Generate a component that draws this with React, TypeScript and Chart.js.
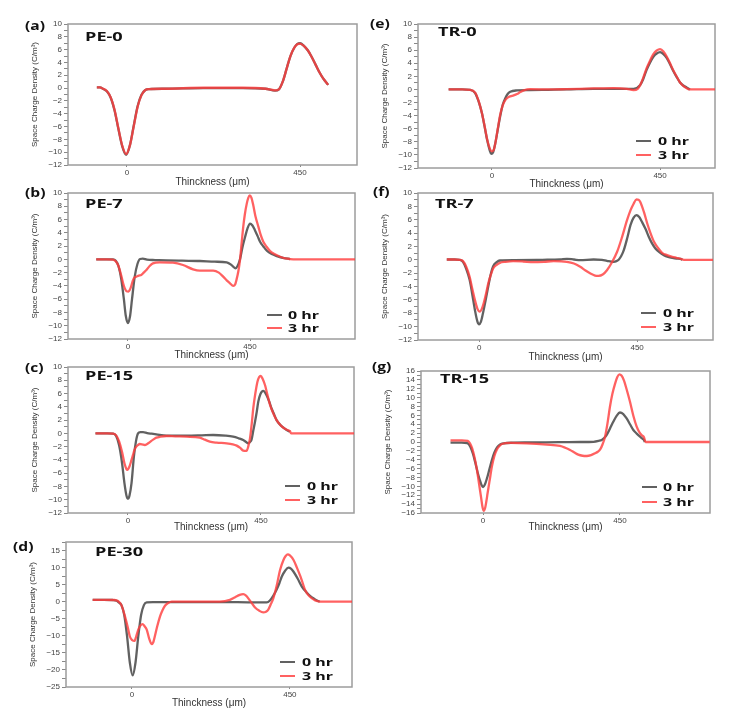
import React, { useEffect, useRef } from "react";
import { Chart, registerables } from "chart.js";
Chart.register(...registerables);

type Pt = [number, number];

// ---------- data (thickness in µm, space charge density in C/m³) ----------
const thicknessTicks = [0, 450];
const seriesLabels = ["0 hr", "3 hr"];

const pe0Hr0: Pt[] = [[-78,0.1],[-70,0.1],[-62,-0.1],[-52,-0.5],[-42,-1.5],[-32,-3.5],[-22,-6.4],[-12,-9.1],[-2,-10.4],[8,-8.9],[18,-5.8],[28,-2.8],[38,-1.05],[48,-0.3],[58,-0.15],[100,-0.1],[200,0],[300,0],[360,-0.1],[385,-0.4],[395,-0.2],[405,1.0],[415,3.0],[425,5.0],[435,6.3],[443,6.9],[450,7.0],[460,6.6],[470,5.9],[480,4.9],[490,3.7],[500,2.5],[510,1.5],[523,0.5]];
const pe0Hr3: Pt[] = [[-78,0.1],[-70,0.1],[-62,-0.1],[-52,-0.45],[-42,-1.45],[-32,-3.4],[-22,-6.3],[-12,-9.0],[-2,-10.3],[8,-8.9],[18,-5.9],[28,-2.9],[38,-1.1],[48,-0.3],[58,-0.15],[100,-0.1],[200,0.05],[300,0.05],[360,-0.1],[385,-0.35],[395,-0.2],[405,1.0],[415,3.0],[425,5.0],[435,6.3],[443,6.85],[450,6.95],[460,6.6],[470,5.9],[480,4.9],[490,3.7],[500,2.5],[510,1.5],[523,0.5]];

const pe7Hr0: Pt[] = [[-117,0],[-80,0],[-55,0],[-45,-0.2],[-35,-1.0],[-25,-2.9],[-15,-6.0],[-8,-8.5],[0,-9.6],[8,-8.5],[15,-6.0],[25,-2.6],[35,-0.7],[45,0.05],[55,0.1],[70,-0.05],[100,-0.1],[142,-0.15],[200,-0.2],[265,-0.25],[320,-0.35],[364,-0.45],[380,-0.8],[388,-1.1],[396,-1.35],[404,-1.0],[413,0],[422,1.8],[432,3.4],[441,4.7],[450,5.4],[459,5.1],[468,4.4],[478,3.5],[487,2.65],[500,1.9],[512,1.3],[530,0.8],[549,0.5],[575,0.2],[598,0.05]];
const pe7Hr3: Pt[] = [[-117,0],[-80,0],[-55,-0.05],[-45,-0.3],[-35,-1.0],[-25,-2.4],[-15,-4.0],[-5,-4.8],[2,-4.85],[10,-4.3],[18,-3.2],[25,-2.7],[31,-2.6],[40,-2.45],[49,-2.35],[58,-2.0],[68,-1.6],[80,-1.0],[92,-0.6],[117,-0.45],[166,-0.5],[203,-0.85],[240,-1.5],[265,-1.7],[314,-1.7],[335,-2.0],[351,-2.6],[365,-3.2],[376,-3.6],[388,-4.0],[395,-3.8],[400,-3.1],[407,-1.8],[413,-0.1],[419,2.4],[425,4.9],[431,6.8],[438,8.4],[444,9.3],[449,9.65],[455,9.3],[462,8.15],[470,6.5],[481,4.9],[490,3.6],[499,2.65],[511,1.9],[524,1.25],[540,0.8],[561,0.4],[580,0.15],[598,0.05],[620,0],[837,0]];

const pe15Hr0: Pt[] = [[-110,0],[-70,0],[-50,-0.05],[-40,-0.4],[-30,-1.8],[-20,-4.5],[-12,-7.5],[-5,-9.4],[0,-9.85],[5,-9.4],[12,-7.5],[20,-3.5],[27,-1.2],[34,0],[42,0.2],[51,0.2],[65,0.05],[80,-0.05],[96,-0.15],[130,-0.35],[198,-0.35],[250,-0.3],[288,-0.25],[330,-0.35],[356,-0.5],[375,-0.75],[390,-1.0],[400,-1.3],[407,-1.5],[413,-1.3],[418,-1.0],[424,0.4],[430,1.75],[436,3.3],[441,4.75],[448,5.9],[458,6.4],[469,5.75],[478,4.8],[486,3.75],[495,2.8],[503,2.0],[515,1.3],[526,0.85],[537,0.5],[548,0.25]];
const pe15Hr3: Pt[] = [[-110,0],[-70,0],[-50,-0.05],[-40,-0.3],[-30,-1.2],[-20,-2.8],[-12,-4.5],[-5,-5.4],[-2,-5.5],[5,-5.0],[12,-4.0],[17,-3.25],[22,-2.5],[28,-2.0],[34,-1.75],[40,-1.6],[48,-1.65],[57,-1.75],[65,-1.6],[73,-1.35],[85,-0.95],[96,-0.65],[110,-0.5],[130,-0.4],[160,-0.45],[198,-0.5],[243,-0.65],[260,-0.95],[277,-1.25],[300,-1.4],[334,-1.5],[355,-1.65],[368,-1.85],[380,-2.2],[390,-2.6],[401,-2.65],[407,-2.0],[413,-0.75],[419,1.5],[424,3.75],[431,6.0],[438,7.75],[444,8.5],[449,8.65],[456,8.2],[464,7.25],[472,5.8],[481,4.25],[492,3.0],[503,2.0],[515,1.3],[526,0.85],[540,0.5],[548,0.35],[552,0],[765,0]];

const pe30Hr0: Pt[] = [[-112,0.55],[-80,0.55],[-55,0.5],[-44,0.3],[-38,-0.2],[-30,-1.0],[-22,-3.9],[-14,-10.1],[-6,-17.9],[2,-21.6],[10,-17.9],[18,-10.1],[26,-3.9],[34,-1.0],[42,-0.2],[60,-0.1],[200,-0.1],[300,-0.15],[384,-0.2],[393,0.35],[403,1.8],[412,3.5],[420,5.4],[427,7.4],[436,9.0],[446,10.0],[453,9.7],[460,8.85],[472,6.8],[484,4.45],[497,2.8],[510,1.5],[520,0.8],[526,0.4],[535,0]];
const pe30Hr3: Pt[] = [[-112,0.55],[-80,0.55],[-50,0.5],[-40,0.2],[-30,-1.0],[-20,-4.3],[-12,-7.5],[-6,-10.2],[1,-11.3],[7,-11.5],[12,-10.2],[18,-8.2],[24,-7.0],[30,-6.6],[36,-7.2],[42,-8.2],[49,-10.8],[56,-12.4],[61,-11.8],[65,-10.2],[72,-7.2],[80,-4.3],[87,-2.5],[94,-1.2],[103,-0.4],[113,0],[150,0],[200,0],[250,0.05],[279,0.55],[294,1.3],[307,2.0],[317,2.2],[325,1.8],[331,1.05],[340,-0.2],[350,-1.6],[362,-2.6],[374,-3.15],[382,-2.95],[388,-2.4],[395,-0.9],[403,1.05],[412,4.5],[422,9.3],[432,12.3],[438,13.4],[444,13.9],[450,13.6],[460,12.3],[470,10.0],[480,7.4],[487,5.3],[493,3.5],[502,2.0],[512,1.05],[522,0.4],[531,0.1],[540,0],[627,0]];

const tr0Hr0: Pt[] = [[-116,0],[-80,0],[-58,-0.05],[-45,-0.55],[-36,-1.8],[-27,-3.6],[-20,-5.6],[-13,-7.7],[-6,-9.3],[-2,-9.85],[3,-9.6],[9,-8.2],[15,-6.3],[22,-4.1],[29,-2.3],[36,-1.3],[42,-0.7],[49,-0.35],[67,-0.15],[100,-0.1],[150,-0.05],[200,0],[272,0.1],[352,0.1],[379,0.1],[397,0.7],[405,1.6],[414,3.0],[423,4.1],[432,5.0],[441,5.5],[450,5.7],[459,5.4],[468,4.8],[477,3.8],[486,2.75],[495,1.85],[503,1.1],[512,0.6],[521,0.3],[530,0]];
const tr0Hr3: Pt[] = [[-116,0],[-80,0],[-58,-0.05],[-45,-0.5],[-36,-1.7],[-27,-3.6],[-20,-5.5],[-13,-7.6],[-6,-9.0],[0,-9.45],[5,-9.2],[9,-8.2],[15,-6.2],[22,-3.85],[29,-2.4],[36,-1.6],[42,-1.25],[49,-1.05],[58,-0.9],[67,-0.7],[76,-0.4],[85,-0.15],[102,0.05],[150,0],[200,0.05],[272,0.15],[325,0.2],[361,0.1],[379,-0.1],[390,0.1],[397,0.7],[405,1.8],[414,3.25],[423,4.4],[432,5.4],[441,5.95],[450,6.15],[459,5.8],[468,5.0],[477,3.95],[486,2.85],[495,1.9],[503,1.1],[512,0.55],[521,0.2],[530,0],[597,0]];

const tr7Hr0: Pt[] = [[-92,0.05],[-70,0.05],[-55,0],[-46,-0.3],[-37,-1.3],[-27,-3.0],[-20,-5.0],[-12,-7.5],[-5,-9.2],[0,-9.65],[5,-9.3],[11,-8.0],[18,-6.2],[26,-4.0],[33,-2.2],[40,-0.95],[50,-0.35],[59,-0.1],[100,-0.05],[180,0],[231,0.05],[250,0.15],[270,0.05],[288,-0.05],[326,0.05],[350,0],[364,-0.15],[383,-0.3],[391,-0.2],[398,0.05],[405,0.6],[412,1.45],[422,3.3],[431,5.2],[440,6.3],[448,6.7],[456,6.4],[464,5.65],[474,4.6],[483,3.45],[492,2.5],[502,1.7],[514,1.1],[526,0.7],[538,0.45],[550,0.3],[562,0.2],[574,0.15],[579,0]];
const tr7Hr3: Pt[] = [[-92,0.05],[-70,0.05],[-55,0],[-46,-0.2],[-37,-1.0],[-27,-2.55],[-20,-4.2],[-12,-6.0],[-5,-7.3],[2,-7.75],[8,-7.3],[13,-6.5],[20,-5.0],[26,-3.55],[33,-2.3],[40,-1.3],[50,-0.75],[59,-0.45],[75,-0.3],[97,-0.2],[125,-0.25],[154,-0.35],[185,-0.3],[212,-0.2],[250,-0.3],[270,-0.55],[288,-1.05],[303,-1.6],[317,-2.05],[330,-2.35],[340,-2.4],[352,-2.2],[364,-1.55],[378,-0.4],[393,1.2],[407,3.4],[421,5.9],[431,7.4],[440,8.4],[448,9.05],[454,9.0],[459,8.65],[469,7.2],[479,5.4],[488,4.0],[498,2.7],[510,1.75],[521,1.05],[535,0.7],[550,0.45],[562,0.3],[574,0.15],[583,0],[667,0]];

const tr15Hr0: Pt[] = [[-107,-0.15],[-70,-0.15],[-52,-0.25],[-42,-1.05],[-33,-2.7],[-25,-4.8],[-18,-6.8],[-11,-8.5],[-5,-9.7],[0,-10.15],[6,-9.6],[13,-8.15],[21,-6.1],[29,-4.05],[37,-2.4],[46,-1.2],[56,-0.55],[68,-0.3],[100,-0.15],[150,-0.1],[250,-0.05],[320,0],[363,0.05],[380,0.25],[390,0.45],[398,0.9],[406,1.55],[417,3.0],[428,4.55],[439,5.9],[450,6.65],[461,6.3],[472,5.3],[483,4.0],[494,2.7],[505,1.9],[516,1.2],[524,0.75],[529,0.45],[532,0]];
const tr15Hr3: Pt[] = [[-107,0.35],[-70,0.35],[-50,0.25],[-43,-0.3],[-36,-1.4],[-28,-3.5],[-20,-6.3],[-13,-9.5],[-7,-12.25],[-2,-14.6],[2,-15.5],[7,-14.8],[11,-13.3],[15,-11.5],[22,-8.5],[29,-5.55],[37,-3.2],[46,-1.65],[54,-0.9],[62,-0.45],[90,-0.2],[144,-0.3],[210,-0.6],[253,-0.9],[270,-1.3],[286,-1.8],[300,-2.35],[313,-2.85],[327,-3.1],[341,-3.15],[355,-2.95],[368,-2.55],[377,-2.2],[385,-1.65],[393,-0.5],[401,1.2],[409,4.2],[417,7.9],[425,10.8],[434,13.15],[441,14.6],[448,15.25],[455,15.0],[463,13.9],[473,11.6],[483,9.05],[494,5.9],[505,3.45],[513,2.3],[521,1.55],[529,1.05],[534,0],[745,0]];

// ---------- styling / layout ----------
const AXIS_FONT = '"Liberation Sans", Arial, sans-serif';
const BOLD_FONT = '"Open Sans", "DejaVu Sans", sans-serif';
const BLACK = "rgba(62,62,62,0.82)";
const RED = "rgba(255,62,62,0.82)";
const YW = 40;
const PT = 8;
const PR = 4;

type Panel = {
  tag: string;
  name: string;
  L: number; T: number; R: number; B: number;
  xTitleY: number;
  xMin: number; xMax: number;
  yMin: number; yMax: number; yStep: number; yLabelStep: number;
  hr0: Pt[]; hr3: Pt[];
  tagPos: [number, number];
  namePos: [number, number];
  legend: null | { lineX: number; textX: number; y0: number; y3: number };
};

const panels: Panel[] = [
  { tag: "(a)", name: "PE-0", L: 68, T: 24, R: 357, B: 165, xTitleY: 182, xMin: -153, xMax: 598, yMin: -12, yMax: 10, yStep: 1, yLabelStep: 2, hr0: pe0Hr0, hr3: pe0Hr3, tagPos: [25, 26], namePos: [85, 38], legend: null },
  { tag: "(b)", name: "PE-7", L: 68, T: 193, R: 355, B: 339, xTitleY: 355, xMin: -221, xMax: 837, yMin: -12, yMax: 10, yStep: 1, yLabelStep: 2, hr0: pe7Hr0, hr3: pe7Hr3, tagPos: [25, 193], namePos: [85, 205], legend: { lineX: 267, textX: 288, y0: 315, y3: 328 } },
  { tag: "(c)", name: "PE-15", L: 68, T: 367, R: 354, B: 513, xTitleY: 527, xMin: -203, xMax: 765, yMin: -12, yMax: 10, yStep: 1, yLabelStep: 2, hr0: pe15Hr0, hr3: pe15Hr3, tagPos: [25, 368], namePos: [85, 377], legend: { lineX: 285, textX: 307, y0: 486, y3: 500 } },
  { tag: "(d)", name: "PE-30", L: 66, T: 542, R: 352, B: 687, xTitleY: 703, xMin: -188, xMax: 627, yMin: -25, yMax: 17.5, yStep: 2.5, yLabelStep: 5, hr0: pe30Hr0, hr3: pe30Hr3, tagPos: [13, 547], namePos: [95, 553], legend: { lineX: 280, textX: 302, y0: 662, y3: 676 } },
  { tag: "(e)", name: "TR-0", L: 418, T: 24, R: 715, B: 168, xTitleY: 184, xMin: -198, xMax: 597, yMin: -12, yMax: 10, yStep: 1, yLabelStep: 2, hr0: tr0Hr0, hr3: tr0Hr3, tagPos: [370, 24], namePos: [438, 33], legend: { lineX: 636, textX: 658, y0: 141, y3: 155 } },
  { tag: "(f)", name: "TR-7", L: 418, T: 193, R: 713, B: 340, xTitleY: 357, xMin: -174, xMax: 666, yMin: -12, yMax: 10, yStep: 1, yLabelStep: 2, hr0: tr7Hr0, hr3: tr7Hr3, tagPos: [373, 192], namePos: [435, 205], legend: { lineX: 641, textX: 663, y0: 313, y3: 327 } },
  { tag: "(g)", name: "TR-15", L: 421, T: 371, R: 710, B: 513, xTitleY: 527, xMin: -204, xMax: 746, yMin: -16, yMax: 16, yStep: 1, yLabelStep: 2, hr0: tr15Hr0, hr3: tr15Hr3, tagPos: [372, 367], namePos: [440, 380], legend: { lineX: 642, textX: 663, y0: 487, y3: 502 } },
];

const framePlugin = {
  id: "frame",
  beforeDatasetsDraw(chart: any) {
    const { ctx, chartArea } = chart;
    const { left, top, right, bottom } = chartArea;
    ctx.save();
    ctx.strokeStyle = "#9c9c9c";
    ctx.lineWidth = 1.5;
    ctx.strokeRect(left, top, right - left, bottom - top);
    ctx.restore();
  },
};

function fmt(v: number) {
  return v < 0 ? "\u2212" + Math.abs(v) : String(v);
}

function PanelChart({ p }: { p: Panel }) {
  const ref = useRef<HTMLCanvasElement>(null);
  const XH = p.xTitleY - p.B + 6;
  const w = p.R - p.L + YW + PR;
  const h = p.B - p.T + PT + XH;
  useEffect(() => {
    const toData = (s: Pt[]) => s.map(([x, y]) => ({ x, y }));
    const chart = new Chart(ref.current as HTMLCanvasElement, {
      type: "line",
      data: {
        datasets: [
          { label: seriesLabels[1], data: toData(p.hr3), borderColor: RED, borderWidth: 2.3, pointRadius: 0, cubicInterpolationMode: "monotone", fill: false, order: 0 },
          { label: seriesLabels[0], data: toData(p.hr0), borderColor: BLACK, borderWidth: 2.3, pointRadius: 0, cubicInterpolationMode: "monotone", fill: false, order: 1 },
        ] as any,
      },
      options: {
        animation: false,
        responsive: false,
        maintainAspectRatio: false,
        layout: { padding: { top: PT, right: PR, left: 0, bottom: 0 } },
        plugins: { legend: { display: false }, tooltip: { enabled: false } },
        scales: {
          x: {
            type: "linear",
            min: p.xMin,
            max: p.xMax,
            afterBuildTicks: (s: any) => { s.ticks = thicknessTicks.map((v) => ({ value: v })); },
            afterFit: (s: any) => { s.height = XH; },
            grid: { drawOnChartArea: false, tickLength: 2, color: "#888" },
            border: { display: false },
            ticks: { font: { size: 8, family: AXIS_FONT }, color: "#444", padding: 1, maxRotation: 0, autoSkip: false, callback: (v: any) => String(v) },
            title: { display: true, text: "Thinckness (\u03bcm)", font: { size: 10, family: AXIS_FONT }, color: "#333", padding: { top: 0, bottom: 0 } },
          },
          y: {
            type: "linear",
            min: p.yMin,
            max: p.yMax,
            afterFit: (s: any) => { s.width = YW; },
            grid: { drawOnChartArea: false, tickLength: 4, color: "#888" },
            border: { display: false },
            ticks: {
              stepSize: p.yStep,
              autoSkip: false,
              font: { size: 8, family: AXIS_FONT },
              color: "#444",
              padding: 2,
              callback: (v: any) => {
                const n = Number(v);
                const r = n / p.yLabelStep;
                return Math.abs(r - Math.round(r)) > 1e-6 ? "" : fmt(n);
              },
            },
            title: { display: true, text: "Space Charge Density (C/m\u00b3)", font: { size: 8, family: AXIS_FONT }, color: "#333", padding: { top: 2, bottom: 0 } },
          },
        },
      } as any,
      plugins: [framePlugin],
    });
    return () => chart.destroy();
  }, []);
  return (
    <canvas
      ref={ref}
      width={w}
      height={h}
      style={{ position: "absolute", left: p.L - YW, top: p.T - PT, width: w, height: h }}
    />
  );
}

function BoldText({ text, x, cy, size, sx }: { text: string; x: number; cy: number; size: number; sx: number }) {
  return (
    <div
      style={{
        position: "absolute",
        left: x,
        top: cy - size * 0.53,
        fontFamily: BOLD_FONT,
        fontWeight: 700,
        fontSize: size,
        lineHeight: 1,
        whiteSpace: "nowrap",
        color: "#111",
        transform: `scaleX(${sx})`,
        transformOrigin: "left center",
      }}
    >
      {text}
    </div>
  );
}

export default function App() {
  return (
    <div style={{ position: "absolute", left: 0, top: 0, width: 738, height: 724, background: "#fff", overflow: "hidden" }}>
      {panels.map((p) => (
        <React.Fragment key={p.tag}>
          <PanelChart p={p} />
          <BoldText text={p.tag} x={p.tagPos[0]} cy={p.tagPos[1]} size={13} sx={1.2} />
          <BoldText text={p.name} x={p.namePos[0]} cy={p.namePos[1]} size={12.5} sx={1.45} />
          {p.legend && (
            <>
              <div style={{ position: "absolute", left: p.legend.lineX, top: p.legend.y0 - 1, width: 15, height: 2, background: BLACK }} />
              <BoldText text={seriesLabels[0]} x={p.legend.textX} cy={p.legend.y0} size={11} sx={1.45} />
              <div style={{ position: "absolute", left: p.legend.lineX, top: p.legend.y3 - 1, width: 15, height: 2, background: RED }} />
              <BoldText text={seriesLabels[1]} x={p.legend.textX} cy={p.legend.y3} size={11} sx={1.45} />
            </>
          )}
        </React.Fragment>
      ))}
    </div>
  );
}
